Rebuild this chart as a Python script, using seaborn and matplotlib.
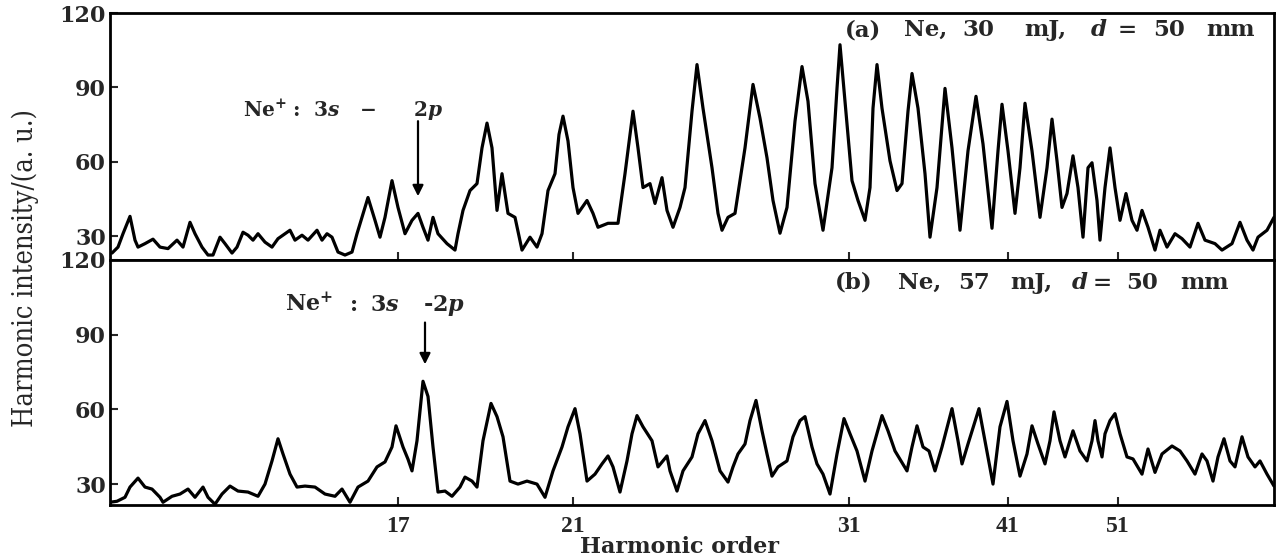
import matplotlib
matplotlib.use("Agg")
import matplotlib.pyplot as plt
import seaborn as sns
import pandas as pd

# ---------------- data ----------------
# spectrometer position (arbitrary units along the detector) and intensity
pos_a = [112, 118, 123, 130, 135, 138, 145, 153, 160, 168, 177, 183, 190, 195, 202, 208, 213,
         220, 225, 232, 237, 243, 248, 253, 258, 265, 272, 278, 285, 290, 295, 302, 308, 317,
         322, 327, 332, 338, 345, 352, 357, 362, 368, 375, 380, 385, 392, 398, 405, 412, 418,
         423, 428, 433, 438, 447, 455, 458, 463, 470, 477, 482, 487, 492, 497, 502, 508, 515,
         522, 530, 537, 542, 548, 555, 559, 563, 568, 573, 578, 587, 593, 598, 608, 618, 625,
         633, 638, 643, 650, 655, 662, 667, 673, 680, 685, 692, 697, 703, 712, 718, 722, 728,
         735, 740, 745, 753, 760, 767, 773, 780, 787, 795, 802, 808, 815, 823, 832, 837, 840,
         845, 852, 858, 865, 870, 873, 877, 882, 890, 897, 902, 908, 912, 918, 925, 930, 937,
         945, 952, 960, 968, 976, 983, 992, 998, 1002, 1008, 1015, 1020, 1025, 1032, 1040,
         1047, 1052, 1057, 1062, 1067, 1073, 1078, 1083, 1088, 1092, 1097, 1100, 1105, 1110,
         1115, 1120, 1126, 1132, 1137, 1142, 1148, 1155, 1160, 1167, 1175, 1182, 1190, 1198,
         1205, 1215, 1222, 1232, 1240, 1247, 1253, 1258, 1267, 1274]
int_a = [23.2, 25.6, 31.0, 38.0, 28.4, 25.6, 27.0, 28.8, 25.6, 25.0, 28.4, 25.6, 35.6, 31.0,
         25.6, 22.4, 22.4, 29.6, 27.0, 23.2, 25.6, 31.6, 30.4, 28.4, 31.0, 27.6, 25.6, 29.0,
         31.0, 32.4, 28.4, 30.4, 28.4, 32.4, 28.4, 31.0, 29.6, 23.6, 22.4, 23.6, 31.0, 37.6,
         45.6, 36.4, 29.6, 37.6, 52.4, 41.6, 31.0, 36.4, 39.2, 33.6, 28.4, 37.6, 31.0, 27.0,
         24.4, 31.0, 40.4, 48.4, 51.2, 65.6, 75.6, 65.6, 40.4, 55.2, 39.2, 37.6, 24.4, 29.6,
         25.6, 31.0, 48.4, 55.2, 71.0, 78.4, 68.4, 49.6, 39.2, 44.4, 39.2, 33.6, 35.2, 35.2,
         55.2, 80.4, 65.6, 49.6, 51.2, 43.2, 53.6, 40.4, 33.6, 41.6, 49.6, 80.4, 99.2, 81.6,
         57.6, 39.2, 32.4, 37.6, 39.2, 52.4, 65.6, 91.2, 77.6, 61.6, 44.4, 31.2, 41.6, 76.4,
         98.4, 84.4, 51.2, 32.4, 57.6, 89.6, 107.2, 84.4, 52.4, 44.4, 36.4, 49.6, 81.6, 99.2,
         81.6, 60.4, 48.4, 51.2, 80.4, 95.6, 81.6, 55.2, 29.6, 49.6, 89.6, 65.6, 32.4, 64.4,
         86.4, 67.2, 33.2, 64.4, 83.2, 64.4, 39.2, 57.6, 83.6, 64.4, 37.6, 57.6, 77.2, 60.4,
         41.6, 47.2, 62.4, 49.6, 29.6, 57.6, 59.6, 44.4, 28.4, 49.6, 65.6, 49.6, 36.4, 47.2,
         36.4, 32.4, 40.4, 33.6, 24.4, 32.4, 25.6, 31.0, 29.0, 25.6, 35.2, 28.4, 27.0, 24.4,
         27.0, 35.6, 28.4, 24.4, 29.6, 32.4, 37.6]

pos_b = [110, 117, 125, 130, 138, 145, 152, 160, 163, 172, 180, 188, 195, 203, 208, 215, 222,
         230, 238, 248, 258, 265, 272, 278, 283, 290, 297, 305, 315, 325, 335, 342, 350, 358,
         368, 377, 385, 392, 396, 403, 408, 412, 417, 423, 428, 433, 438, 445, 452, 460, 465,
         472, 477, 483, 491, 497, 503, 510, 518, 527, 537, 545, 553, 562, 568, 575, 580, 587,
         595, 602, 608, 613, 620, 627, 632, 637, 643, 652, 658, 667, 670, 677, 683, 692, 698,
         705, 712, 720, 728, 733, 738, 745, 750, 756, 762, 767, 772, 778, 787, 793, 800, 805,
         812, 817, 823, 830, 837, 844, 850, 857, 865, 872, 882, 888, 895, 907, 912, 917, 923,
         929, 935, 942, 952, 958, 962, 968, 979, 985, 993, 1000, 1007, 1013, 1020, 1027, 1032,
         1038, 1045, 1050, 1054, 1060, 1065, 1073, 1080, 1087, 1092, 1095, 1098, 1102, 1105,
         1110, 1115, 1120, 1127, 1133, 1142, 1148, 1155, 1162, 1172, 1180, 1187, 1195, 1202,
         1207, 1213, 1218, 1224, 1230, 1235, 1242, 1248, 1255, 1260, 1267, 1274]
int_b = [22.7, 23.1, 24.7, 28.8, 32.4, 28.8, 28.0, 24.7, 22.7, 25.1, 26.0, 28.0, 24.7, 28.8,
         24.7, 21.9, 26.0, 29.2, 27.2, 26.8, 25.1, 30.0, 39.3, 48.2, 42.1, 34.0, 28.8, 29.2,
         28.8, 26.0, 25.1, 28.0, 22.7, 28.8, 31.2, 36.9, 38.9, 44.9, 53.4, 44.9, 40.0, 35.3,
         47.4, 71.3, 65.2, 44.9, 26.8, 27.2, 25.1, 28.8, 32.8, 31.2, 28.8, 47.4, 62.4, 57.1,
         49.0, 31.2, 30.0, 31.2, 30.0, 24.7, 35.3, 44.9, 53.0, 60.3, 50.2, 31.2, 34.0, 38.1,
         41.3, 36.9, 26.8, 39.3, 50.2, 57.5, 53.0, 47.4, 36.9, 41.3, 35.3, 27.2, 35.3, 40.9,
         50.2, 55.5, 47.4, 35.3, 30.8, 36.9, 42.1, 46.1, 55.5, 63.6, 51.4, 42.1, 33.2, 36.9,
         39.3, 49.0, 55.5, 57.1, 44.9, 38.1, 34.0, 26.0, 42.1, 56.3, 50.2, 43.3, 31.2, 43.3,
         57.5, 51.4, 43.3, 35.3, 44.9, 53.4, 44.9, 43.3, 35.3, 44.9, 60.3, 47.4, 38.1, 46.1,
         60.3, 47.4, 30.0, 53.0, 63.2, 47.4, 33.2, 42.1, 53.4, 46.1, 38.1, 47.4, 59.0, 47.4,
         40.9, 51.4, 43.3, 39.3, 47.4, 55.5, 47.4, 40.9, 50.2, 55.5, 58.3, 50.2, 40.9, 40.1,
         34.0, 44.1, 34.7, 42.1, 45.3, 43.3, 39.3, 34.0, 42.1, 39.3, 31.2, 40.9, 48.2, 39.3,
         36.9, 49.0, 40.9, 36.9, 39.3, 34.0, 29.2]

harmonic_labels = ["17", "21", "31", "41", "51"]
harmonic_pos = [398, 573, 849, 1008, 1118]
y_ticks = [30, 60, 90, 120]

# text pieces (widely letter-spaced in the original)
title_a = ["(a)", "Ne,", "30", "mJ,", "$d$", "=", "50", "mm"]
title_b = ["(b)", "Ne,", "57", "mJ,", "$d$", "=", "50", "mm"]
note_a = ["Ne$^{+}$", ":", "3$s$", "−", "2$p$"]
note_b = ["Ne$^{+}$", ":", "3$s$", "-2$p$"]

# ---------------- style ----------------
sns.set_style("ticks")
plt.rcParams['font.family'] = ['DejaVu Serif']
plt.rcParams['mathtext.fontset'] = 'custom'
plt.rcParams['mathtext.rm'] = 'DejaVu Serif:bold'
plt.rcParams['mathtext.it'] = 'DejaVu Serif:italic:bold'
plt.rcParams['mathtext.bf'] = 'DejaVu Serif:bold'

W, H = 1282, 559
fig = plt.figure(figsize=(W / 100, H / 100), dpi=100)
L, R = 110, 1274
ax_a = fig.add_axes([L / W, 1 - 260 / H, (R - L) / W, (260 - 13) / H])
ax_b = fig.add_axes([L / W, 1 - 505 / H, (R - L) / W, (505 - 260) / H])

df_a = pd.DataFrame({"pos": pos_a, "intensity": int_a})
df_b = pd.DataFrame({"pos": pos_b, "intensity": int_b})
sns.lineplot(data=df_a, x="pos", y="intensity", ax=ax_a, color="black", lw=2.3,
             sort=False, estimator=None)
sns.lineplot(data=df_b, x="pos", y="intensity", ax=ax_b, color="black", lw=2.3,
             sort=False, estimator=None)

for ax, ylo in ((ax_a, 20.4), (ax_b, 21.6)):
    ax.set_xlim(L, R)
    ax.set_ylim(ylo, 120)
    ax.set_yticks(y_ticks)
    ax.set_yticklabels([str(v) for v in y_ticks], fontsize=16, fontweight="bold")
    ax.set_xticks(harmonic_pos)
    ax.tick_params(axis="both", direction="in", length=6, width=1.5, pad=3)
    ax.set_ylabel("")
    ax.set_xlabel("")
    for s in ax.spines.values():
        s.set_linewidth(2.0)
        s.set_color("black")

ax_a.set_xticklabels([])
ax_b.set_xticklabels(harmonic_labels, fontsize=17, fontweight="bold",
                     family="Liberation Serif")
ax_b.tick_params(axis="x", pad=8)

fig.text(680 / W, 1 - 547 / H, "Harmonic order", ha="center", va="center",
         fontsize=16, fontweight="bold")
fig.text(25 / W, 1 - 268 / H, "Harmonic intensity/(a. u.)", rotation=90,
         ha="center", va="center", fontsize=19.5, family="DejaVu Serif",
         fontstretch="condensed")


def spaced(pieces, xs, y, size):
    for txt, x in zip(pieces, xs):
        fig.text(x / W, 1 - y / H, txt, ha="left", va="center", fontsize=size,
                 fontweight="bold")


spaced(title_a, [845, 904, 962, 1024, 1090, 1118, 1153, 1206], 30, 16.5)
spaced(title_b, [835, 898, 958, 1010, 1071, 1093, 1126, 1180], 283, 16.5)
spaced(note_a, [243, 292, 313, 360, 413], 110, 14.5)
spaced(note_b, [285, 350, 370, 423], 305, 16)

ax_a.annotate("", xy=(418, 45), xytext=(418, 77.5),
              arrowprops=dict(arrowstyle="-|>", color="black", lw=1.6, mutation_scale=16))
ax_b.annotate("", xy=(425, 77), xytext=(425, 96),
              arrowprops=dict(arrowstyle="-|>", color="black", lw=1.6, mutation_scale=16))

fig.savefig("out.png", dpi=100)
